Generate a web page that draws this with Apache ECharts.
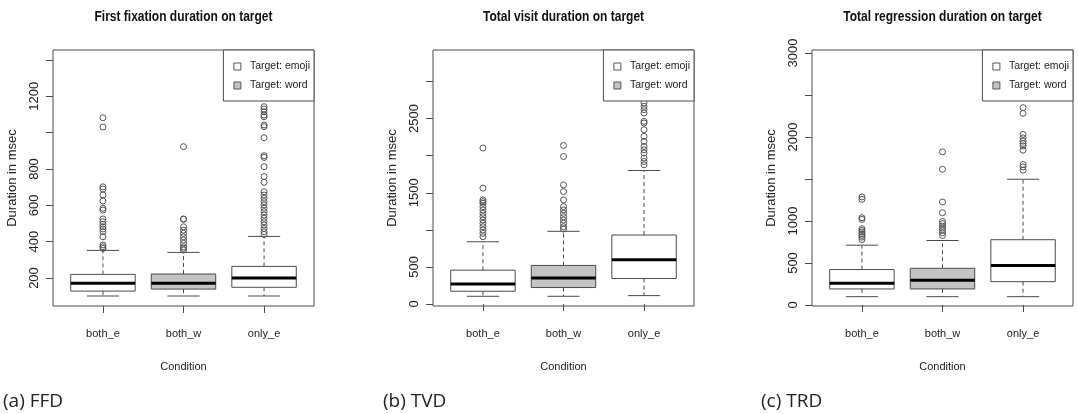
<!DOCTYPE html>
<html>
<head>
<meta charset="utf-8">
<script src="https://cdn.jsdelivr.net/npm/echarts@6/dist/echarts.min.js"></script>
<style>
  html, body { margin: 0; padding: 0; background: #fff; }
  #chart { width: 1078px; height: 414px; }
</style>
</head>
<body>
<div id="chart"></div>
<script>
// ---------------- data ----------------
const categories = ['both_e', 'both_w', 'only_e'];
const legendNames = ['Target: emoji', 'Target: word'];

const panelTitles = ['First fixation duration on target', 'Total visit duration on target', 'Total regression duration on target'];
const captions = ['(a) FFD', '(b) TVD', '(c) TRD'];

// box stats per category: [lower whisker, Q1, median, Q3, upper whisker]
const ffdStats = [[101, 128, 171, 220, 352], [101, 139, 171, 222, 341], [101, 149, 200, 264, 429]];
const ffdOutBothE = [1082, 1031, 702, 690, 657, 624, 584, 574, 525, 510, 496, 482, 470, 455, 427, 382, 372, 363];
const ffdOutBothW = [923, 525, 523, 482, 464, 446, 427, 409, 391, 372, 363, 354];
const ffdOutOnlyE = [1143, 1130, 1115, 1097, 1088, 1042, 1033, 972, 873, 864, 813, 758, 727, 675, 657, 639, 620, 602, 584, 565, 547, 529, 510, 492, 473, 455, 440];

const tvdStats = [[104, 172, 271, 456, 839], [104, 222, 352, 520, 980], [113, 344, 595, 930, 1800]];
const tvdOutBothE = [2103, 1562, 1403, 1380, 1359, 1313, 1268, 1223, 1177, 1133, 1088, 1042, 997, 952, 907];
const tvdOutBothW = [2138, 1989, 1606, 1516, 1403, 1313, 1268, 1223, 1177, 1133, 1088, 1042, 1011];
const tvdOutOnlyE = [2712, 2666, 2621, 2576, 2463, 2441, 2350, 2260, 2192, 2125, 2080, 2035, 1968, 1922, 1877];

const trdStats = [[99, 191, 258, 422, 712], [99, 191, 294, 437, 768], [99, 278, 470, 777, 1497]];
const trdOutBothE = [1286, 1258, 1039, 1019, 908, 888, 868, 848, 828, 808, 780];
const trdOutBothW = [1823, 1616, 1226, 1099, 995, 968, 939, 915, 888, 860, 828];
const trdOutOnlyE = [2349, 2282, 2031, 1990, 1951, 1923, 1895, 1843, 1673, 1644, 1605];

// y axis ticks / labels / extents
const ffdTicks = [200, 400, 600, 800, 1000, 1200, 1400];
const ffdLabels = [200, 400, 600, 800, 1200];
const tvdTicks = [0, 500, 1000, 1500, 2000, 2500, 3000];
const tvdLabels = [0, 500, 1500, 2500];
const trdTicks = [0, 500, 1000, 1500, 2000, 2500, 3000];
const trdLabels = [0, 500, 1000, 2000, 3000];
const ffdRange = [46, 1455];
const tvdRange = [-27, 3425];
const trdRange = [-12, 3036];

const yName = 'Duration in msec';
const xName = 'Condition';

// ---------------- layout / style ----------------
const W = 1078;
const gridLefts = [53, 433, 812];
const gridTop = 50, gridW = 261, gridH = 256;
const BOX_WEX = 0.8, STAPLE = 0.5;
const regular = "'Liberation Sans', Arial, sans-serif";
const lineCol = '#4a4a4a';
const textCol = '#222';
const fills = ['#ffffff', '#c4c4c4'];

const panels = [
  { stats: ffdStats, outs: [ffdOutBothE, ffdOutBothW, ffdOutOnlyE], ticks: ffdTicks, labels: ffdLabels, range: ffdRange },
  { stats: tvdStats, outs: [tvdOutBothE, tvdOutBothW, tvdOutOnlyE], ticks: tvdTicks, labels: tvdLabels, range: tvdRange },
  { stats: trdStats, outs: [trdOutBothE, trdOutBothW, trdOutOnlyE], ticks: trdTicks, labels: trdLabels, range: trdRange }
];

function boxRender(params, api) {
  const x = api.value(0);
  const pts = [1, 2, 3, 4, 5].map(i => api.coord([x, api.value(i)]));
  const bw = api.size([BOX_WEX, 0])[0];
  const sw = bw * STAPLE;
  const cx = pts[0][0];
  const yLo = pts[0][1], yQ1 = pts[1][1], yMed = pts[2][1], yQ3 = pts[3][1], yHi = pts[4][1];
  const dash = { stroke: lineCol, lineWidth: 1, lineDash: [4, 3] };
  const solid = { stroke: lineCol, lineWidth: 1 };
  return {
    type: 'group',
    children: [
      { type: 'line', shape: { x1: cx, y1: yQ3, x2: cx, y2: yHi }, style: dash },
      { type: 'line', shape: { x1: cx, y1: yQ1, x2: cx, y2: yLo }, style: dash },
      { type: 'line', shape: { x1: cx - sw / 2, y1: yHi, x2: cx + sw / 2, y2: yHi }, style: solid },
      { type: 'line', shape: { x1: cx - sw / 2, y1: yLo, x2: cx + sw / 2, y2: yLo }, style: solid },
      { type: 'rect', shape: { x: cx - bw / 2, y: yQ3, width: bw, height: yQ1 - yQ3 }, style: { fill: api.visual('color'), stroke: lineCol, lineWidth: 1 } },
      { type: 'line', shape: { x1: cx - bw / 2, y1: yMed, x2: cx + bw / 2, y2: yMed }, style: { stroke: '#000', lineWidth: 3 } }
    ]
  };
}

const grid = [], xAxis = [], yAxis = [], series = [], legend = [], title = [], graphic = [];

panels.forEach((p, i) => {
  const left = gridLefts[i];
  grid.push({ left: left, top: gridTop, width: gridW, height: gridH, show: true, borderColor: lineCol, borderWidth: 1, backgroundColor: 'transparent' });
  xAxis.push({
    type: 'value', gridIndex: i, min: 0.38, max: 3.62,
    axisLine: { show: false }, splitLine: { show: false },
    axisTick: { show: true, customValues: [1, 2, 3], length: 7, lineStyle: { color: lineCol } },
    axisLabel: { customValues: [1, 2, 3], formatter: v => categories[Math.round(v) - 1], margin: 22, color: textCol, fontFamily: regular, fontSize: 11 },
    name: xName, nameLocation: 'middle', nameGap: 55,
    nameTextStyle: { color: textCol, fontFamily: regular, fontSize: 11 }
  });
  yAxis.push({
    type: 'value', gridIndex: i, min: p.range[0], max: p.range[1],
    axisLine: { show: false }, splitLine: { show: false },
    axisTick: { show: true, customValues: p.ticks, length: 7, lineStyle: { color: lineCol } },
    axisLabel: { customValues: p.labels, formatter: v => String(v), rotate: 90, margin: 12, color: textCol, fontFamily: regular, fontSize: 13 },
    name: yName, nameLocation: 'middle', nameRotate: 90, nameGap: 34,
    nameTextStyle: { color: textCol, fontFamily: regular, fontSize: 13 }
  });
  series.push({
    name: legendNames[0], type: 'custom', xAxisIndex: i, yAxisIndex: i,
    itemStyle: { color: fills[0] }, renderItem: boxRender, encode: { x: 0, y: [1, 2, 3, 4, 5] },
    data: [[1].concat(p.stats[0]), [3].concat(p.stats[2])], z: 2
  });
  series.push({
    name: legendNames[1], type: 'custom', xAxisIndex: i, yAxisIndex: i,
    itemStyle: { color: fills[1] }, renderItem: boxRender, encode: { x: 0, y: [1, 2, 3, 4, 5] },
    data: [[2].concat(p.stats[1])], z: 2
  });
  const outData = [];
  p.outs.forEach((arr, k) => arr.forEach(v => outData.push([k + 1, v])));
  series.push({
    name: 'outliers', type: 'scatter', xAxisIndex: i, yAxisIndex: i,
    symbol: 'circle', symbolSize: 6,
    itemStyle: { color: 'transparent', borderColor: '#555', borderWidth: 1, opacity: 1 },
    data: outData, z: 3, silent: true
  });
  legend.push({
    right: W - (left + gridW), top: gridTop, orient: 'vertical',
    backgroundColor: '#fff', borderColor: lineCol, borderWidth: 1,
    padding: [11, 4, 10, 10], itemGap: 8, itemWidth: 7, itemHeight: 7,
    selectedMode: false, z: 10,
    textStyle: { color: textCol, fontFamily: regular, fontSize: 10.5, padding: [0, 0, 0, 4] },
    data: [
      { name: legendNames[0], icon: 'rect', itemStyle: { color: fills[0], borderColor: '#555', borderWidth: 1 } },
      { name: legendNames[1], icon: 'rect', itemStyle: { color: fills[1], borderColor: '#555', borderWidth: 1 } }
    ]
  });
  // panel title (condensed look, like the R device output)
  graphic.push({
    type: 'text', x: left + gridW / 2, y: 17, scaleX: 0.8, silent: true,
    style: { text: panelTitles[i], align: 'center', verticalAlign: 'middle', fill: '#111', font: "bold 15px 'Liberation Sans', Arial, sans-serif" }
  });
});

const captionLefts = [3, 383, 761];
captions.forEach((c, i) => {
  title.push({ text: c, left: captionLefts[i], top: 392, padding: 0, textStyle: { color: textCol, fontFamily: "'Open Sans', 'Noto Sans', sans-serif", fontWeight: 'normal', fontSize: 19 } });
});

const chart = echarts.init(document.getElementById('chart'), null, { renderer: 'canvas' });
chart.setOption({
  animation: false,
  backgroundColor: '#fff',
  title: title, grid: grid, xAxis: xAxis, yAxis: yAxis, legend: legend, series: series, graphic: graphic
});
</script>
</body>
</html>
